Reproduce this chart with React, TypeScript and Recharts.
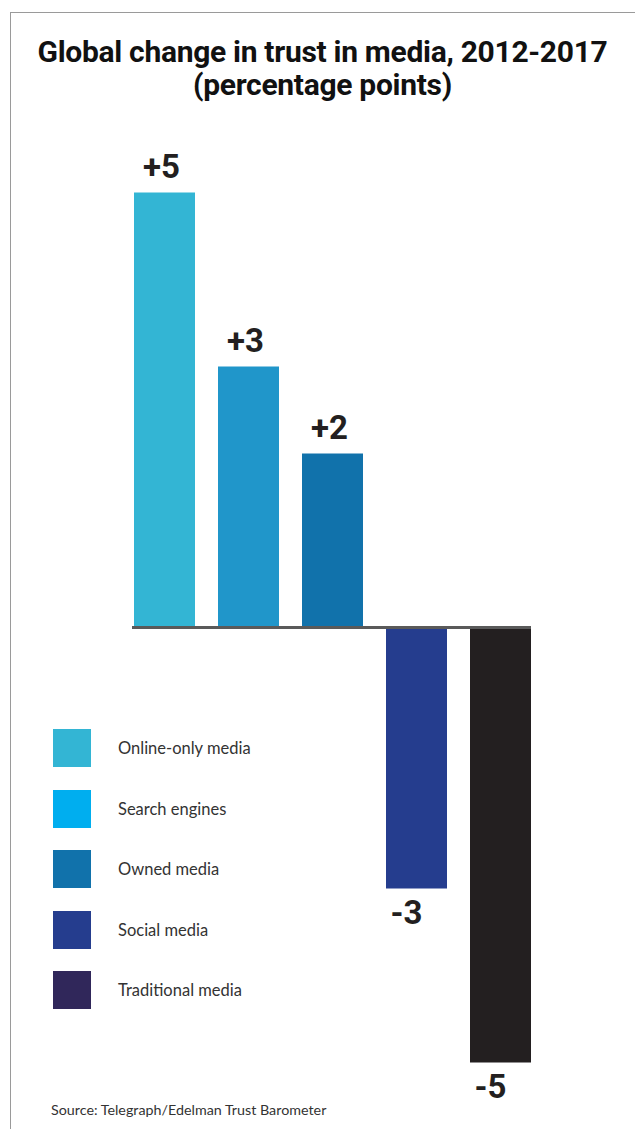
import {
  BarChart,
  Bar,
  XAxis,
  YAxis,
  Cell,
  LabelList,
  ReferenceLine,
  Legend,
} from "recharts";

const categories = [
  "Online-only media",
  "Search engines",
  "Owned media",
  "Social media",
  "Traditional media",
];
const changes = [5, 3, 2, -3, -5];
const valueLabels = ["+5", "+3", "+2", "-3", "-5"];
const barColors = ["#33b5d4", "#2096ca", "#1172ab", "#253d8e", "#231f20"];
const legendColors = ["#33b5d4", "#00aeef", "#1172ab", "#253d8e", "#30275a"];

const data = categories.map((name, i) => ({ name, change: changes[i] }));

const FONT = "Roboto, 'Noto Sans', sans-serif";

function ValueLabel(props: any) {
  const { x, y, width, height, index } = props;
  const value = changes[index];
  const top = Math.min(y, y + height);
  const bottom = Math.max(y, y + height);
  const cy = value >= 0 ? top - 26 : bottom + 24;
  return (
    <text
      x={x + width / 2 + (value >= 0 ? -3 : -10)}
      y={cy}
      textAnchor="middle"
      dominantBaseline="central"
      fontFamily={FONT}
      fontWeight={700}
      fontSize={33}
      fill="#231f20"
    >
      {valueLabels[index]}
    </text>
  );
}

function ZeroLine(props: any) {
  const { x1, x2, y1 } = props;
  return (
    <line
      x1={x1 + 10}
      x2={x2 - 11}
      y1={y1}
      y2={y1}
      stroke="#5a5a5a"
      strokeWidth={3}
    />
  );
}

function LegendBox() {
  return (
    <div style={{ display: "flex", flexDirection: "column", gap: 22.5 }}>
      {categories.map((c, i) => (
        <div key={c} style={{ display: "flex", alignItems: "center", height: 38 }}>
          <div style={{ width: 38, height: 38, background: legendColors[i] }} />
          <span
            style={{
              marginLeft: 27,
              fontFamily: "Lato, sans-serif",
              fontSize: 16.5,
              color: "#333",
            }}
          >
            {c}
          </span>
        </div>
      ))}
    </div>
  );
}

export default function App() {
  return (
    <div
      style={{
        position: "absolute",
        left: 0,
        top: 0,
        width: 635,
        height: 1129,
        background: "#fff",
        overflow: "hidden",
      }}
    >
      <div
        style={{
          position: "absolute",
          left: 10,
          top: 12,
          width: 625,
          height: 1117,
          borderTop: "1.5px solid #9a9a9a",
          borderLeft: "1.5px solid #9a9a9a",
        }}
      />
      <div
        style={{
          position: "absolute",
          left: 10,
          top: 35,
          width: 625,
          textAlign: "center",
          fontFamily: FONT,
          fontWeight: 700,
          fontSize: 30,
          lineHeight: "33px",
          letterSpacing: -0.3,
          color: "#111",
        }}
      >
        Global change in trust in media, 2012-2017
        <br />
        (percentage points)
      </div>
      <div style={{ position: "absolute", left: 0, top: 0 }}>
        <BarChart
          width={635}
          height={1129}
          data={data}
          margin={{ top: 149, right: 93, bottom: 23, left: 122 }}
        >
          <XAxis dataKey="name" hide />
          <YAxis type="number" domain={[-5.5, 5.5]} hide />
          <Bar dataKey="change" barSize={61} isAnimationActive={false}>
            {data.map((d, i) => (
              <Cell key={d.name} fill={barColors[i]} />
            ))}
            <LabelList dataKey="change" content={ValueLabel} />
          </Bar>
          <ReferenceLine y={0} shape={ZeroLine} />
          <Legend
            layout="horizontal"
            verticalAlign="middle"
            align="center"
            content={LegendBox}
            wrapperStyle={{ left: 53, top: 729, width: 300 }}
          />
        </BarChart>
      </div>
      <div
        style={{
          position: "absolute",
          left: 51,
          top: 1101,
          fontFamily: "Lato, sans-serif",
          fontSize: 14.3,
          color: "#333",
        }}
      >
        Source: Telegraph/Edelman Trust Barometer
      </div>
    </div>
  );
}
